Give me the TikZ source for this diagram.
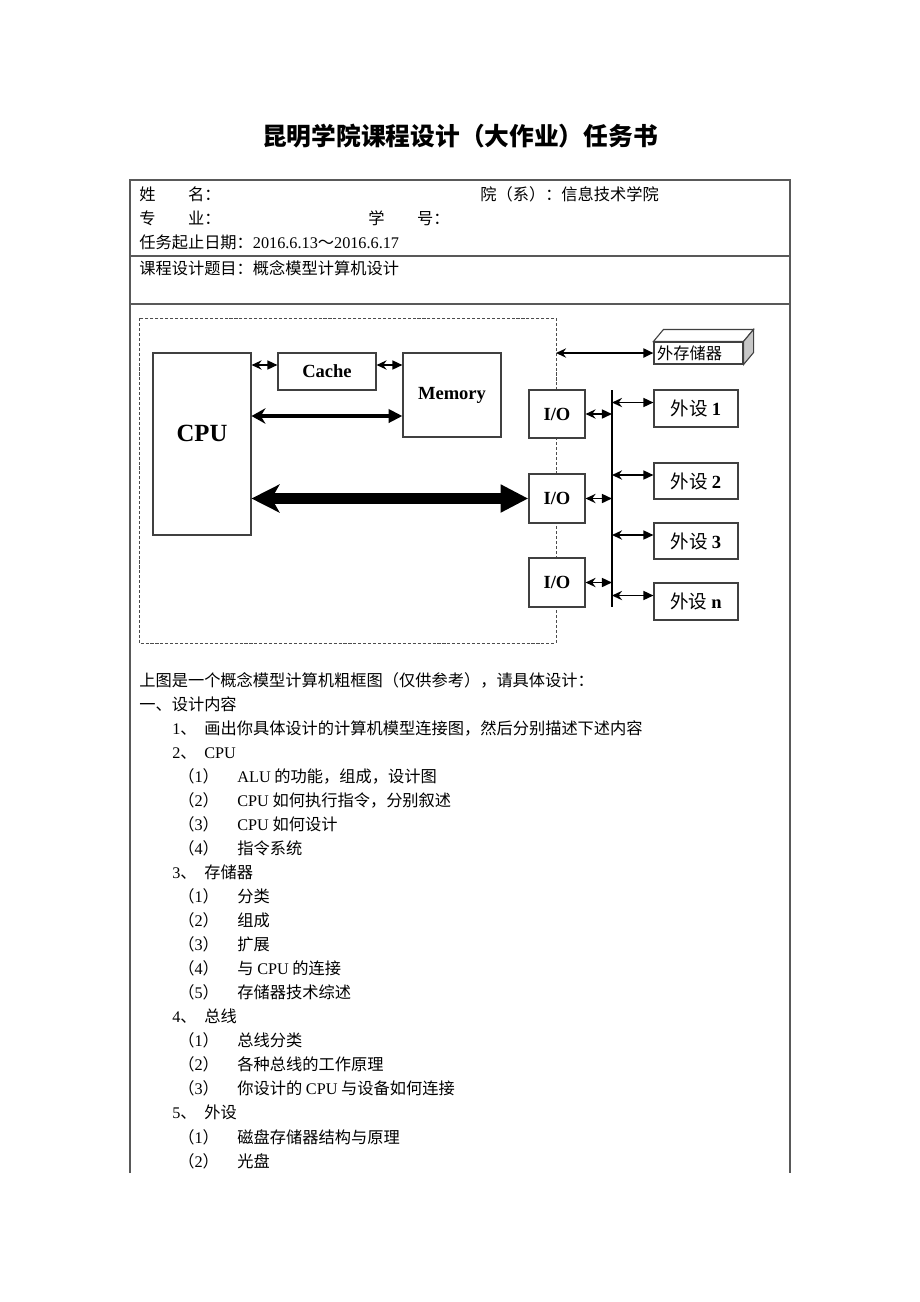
\documentclass[tikz,border=0pt]{standalone}
\usepackage{fontspec}
\setmainfont{Liberation Serif}
\newfontfamily\cjk{Noto Sans CJK SC}
\usetikzlibrary{arrows.meta,calc}
\def\pu{0.6467pt}
\def\en#1{{\rmfamily #1}}
\def\itA#1{\makebox[20.7pt][l]{\en{#1}、}}
\def\itB#1{\makebox[38.2pt][l]{（\en{#1}）}}
\tikzset{
  txt/.style={anchor=base west, inner sep=0pt, font=\cjk\fontsize{10.5}{12}\selectfont},
  rule/.style={draw=black!65, line width=0.8pt},
  box/.style 2 args={draw=black!75, line width=0.7pt, fill=white, inner sep=0pt,
    minimum width=#1*\pu, minimum height=#2*\pu},
  btxt/.style={font=\rmfamily\bfseries\fontsize{12}{14}\selectfont},
  dtxt/.style={font=\cjk\fontsize{12}{14}\selectfont},
  frame/.style={draw=black!70, line width=0.5pt, dash pattern=on 2pt off 1.2pt},
  sarr/.style={{Stealth[length=6.5pt,width=6pt,inset=2.2pt]}-{Triangle[length=6.5pt,width=5.8pt]}, line width=1.1pt},
  marr/.style={{Stealth[length=9pt,width=10pt,inset=3pt]}-{Triangle[length=9pt,width=8.5pt]}, line width=2.6pt},
  barr/.style={{Stealth[length=18pt,width=18pt,inset=5pt]}-{Triangle[length=18pt,width=17pt]}, line width=6.5pt},
}

\begin{document}
\begin{tikzpicture}[x=0.6467pt,y=-0.6467pt]
  \useasboundingbox[fill=white] (0,0) rectangle (920,1302);

  %%%%% TITLE AND TABLE %%%%%
  \node[font=\cjk\bfseries\fontsize{16}{18}\selectfont] (title) at (460,136) {昆明学院课程设计（大作业）任务书};

  \coordinate (tnw) at (130,180);
  \coordinate (tne) at (790,180);
  \coordinate (tsw) at (130,1173);
  \coordinate (tse) at (790,1173);
  \draw[rule] (tsw) -- (tnw) -- (tne) -- (tse);
  \draw[rule] (130,256) -- (790,256);
  \draw[rule] (130,304) -- (790,304);

  \node[txt] (name) at (139,200) {姓　　名：};
  \node[txt] (dept) at (480,200) {院（系）：信息技术学院};
  \node[txt] (major) at (139,224) {专　　业：};
  \node[txt] (sid) at (368,224) {学　　号：};
  \node[txt] (date) at (139,248) {任务起止日期：\en{2016.6.13}～\en{2016.6.17}};
  \node[txt] (topic) at (139,274) {课程设计题目：概念模型计算机设计};

  %%%%% DIAGRAM %%%%%
  \coordinate (fnw) at (139,318);
  \coordinate (fse) at (556,643);
  \draw[frame] (fnw) rectangle (fse);

  \node[box={98}{182}] (cpu) at (202,444) {};
  \node[font=\rmfamily\bfseries\fontsize{16}{18}\selectfont] (cpulab) at (202,433) {CPU};
  \node[box={98}{37}, btxt] (cache) at (327,371.5) {Cache};
  \node[box={98}{84}, btxt] (mem) at (452,395) {Memory};

  \node[box={56}{48}, btxt] (io1) at (557,414) {I/O};
  \node[box={56}{49}, btxt] (io2) at (557,498.5) {I/O};
  \node[box={56}{49}, btxt] (io3) at (557,582.5) {I/O};

  \node[box={84}{37}, dtxt] (dev1) at (696,408.5) {外设 \en{\bfseries 1}};
  \node[box={84}{36}, dtxt] (dev2) at (696,481) {外设 \en{\bfseries 2}};
  \node[box={84}{36}, dtxt] (dev3) at (696,541) {外设 \en{\bfseries 3}};
  \node[box={84}{37}, dtxt] (devn) at (696,601.5) {外设 \en{\bfseries n}};

  \node[box={89}{22}, inner xsep=2pt, text width=53.5pt, align=left,
        font=\cjk\fontsize{10.5}{12}\selectfont] (ext) at (698.5,353) {外存储器};
  \draw[draw=black!75, line width=0.7pt, fill=white] (ext.north west) -- ++(10,-12)
    -- ($(ext.north east)+(10,-12)$) -- (ext.north east) -- cycle;
  \draw[draw=black!75, line width=0.7pt, fill=black!22] (ext.north east) -- ++(10,-12)
    -- ($(ext.south east)+(10,-12)$) -- (ext.south east) -- cycle;

  % bus
  \coordinate (bt) at (612,390);
  \coordinate (bb) at (612,607);
  \draw[line width=0.9pt] (bt) -- (bb);

  % connectors
  \coordinate (cc) at ($(cache.west)+(0,-6.5)$);
  \draw[sarr] (cpu.east |- cc) -- (cc);
  \coordinate (cm) at ($(cache.east)+(0,-6.5)$);
  \draw[sarr] (cm) -- (mem.west |- cm);
  \coordinate (mm) at ($(mem.west)+(0,21)$);
  \draw[marr] (cpu.east |- mm) -- (mm);
  \draw[barr] (cpu.east |- io2.west) -- (io2.west);

  \foreach \i in {io1,io2,io3}
    \draw[sarr] (\i.east) -- (\i.east -| bt);
  \foreach \d in {dev1,dev2,dev3,devn}{
    \coordinate (p) at ($(\d.west)+(0,-6)$);
    \draw[sarr] (bt |- p) -- (p);
  }
  \draw[sarr, line width=1.3pt] (fse |- ext.west) -- (ext.west);

  %%%%% TASK TEXT %%%%%
  \node[txt] (t0) at (139,686) {上图是一个概念模型计算机粗框图（仅供参考），请具体设计：};
  \node[txt] (t1) at (139,710) {一、设计内容};
  \node[txt] (t2) at (172,734) {\itA{1}画出你具体设计的计算机模型连接图，然后分别描述下述内容};
  \node[txt] (t3) at (172,758) {\itA{2}\en{CPU}};
  \node[txt] (t4) at (178,782) {\itB{1}\en{ALU} 的功能，组成，设计图};
  \node[txt] (t5) at (178,806) {\itB{2}\en{CPU} 如何执行指令，分别叙述};
  \node[txt] (t6) at (178,830) {\itB{3}\en{CPU} 如何设计};
  \node[txt] (t7) at (178,854) {\itB{4}指令系统};
  \node[txt] (t8) at (172,878) {\itA{3}存储器};
  \node[txt] (t9) at (178,902) {\itB{1}分类};
  \node[txt] (t10) at (178,926) {\itB{2}组成};
  \node[txt] (t11) at (178,950) {\itB{3}扩展};
  \node[txt] (t12) at (178,974) {\itB{4}与 \en{CPU} 的连接};
  \node[txt] (t13) at (178,998) {\itB{5}存储器技术综述};
  \node[txt] (t14) at (172,1022) {\itA{4}总线};
  \node[txt] (t15) at (178,1046) {\itB{1}总线分类};
  \node[txt] (t16) at (178,1070) {\itB{2}各种总线的工作原理};
  \node[txt] (t17) at (178,1094) {\itB{3}你设计的 \en{CPU} 与设备如何连接};
  \node[txt] (t18) at (172,1118) {\itA{5}外设};
  \node[txt] (t19) at (178,1143) {\itB{1}磁盘存储器结构与原理};
  \node[txt] (t20) at (178,1167) {\itB{2}光盘};
\end{tikzpicture}
\end{document}
